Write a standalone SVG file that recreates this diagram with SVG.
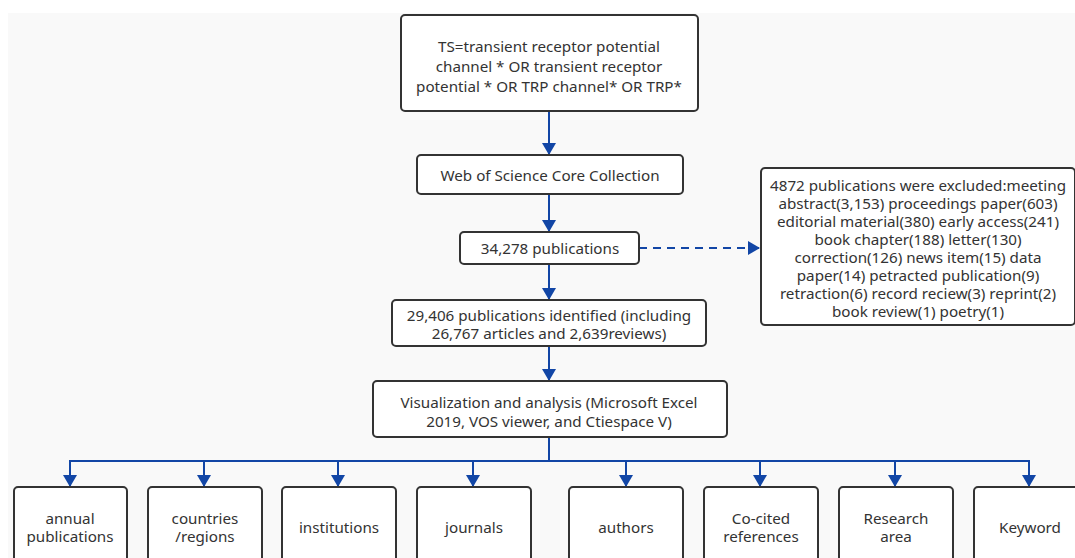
<svg xmlns="http://www.w3.org/2000/svg" width="1075" height="558" viewBox="0 0 1075 558">
<defs>
<marker id="ah" markerWidth="12" markerHeight="14" refX="12" refY="7" orient="auto" markerUnits="userSpaceOnUse">
<path d="M0,0 L12,7 L0,14 Z" fill="#1246a6"/>
</marker>
</defs>
<style>
.box{fill:#ffffff;stroke:#333333;stroke-width:2}
.t{font-family:"Noto Sans","Open Sans",sans-serif;font-size:15.2px;fill:#333333;text-anchor:middle}
.c{fill:none;stroke:#1246a6;stroke-width:2}
.d{fill:none;stroke:#1246a6;stroke-width:2;stroke-dasharray:8,6}
</style>
<rect x="0" y="0" width="1075" height="558" fill="#ffffff"/>
<rect x="8" y="13" width="1067" height="545" fill="#f9f9f9"/>
<g id="connectors">
<line class="c" x1="549" y1="111" x2="549" y2="155" marker-end="url(#ah)"/>
<line class="c" x1="549" y1="194" x2="549" y2="232" marker-end="url(#ah)"/>
<line class="d" x1="639" y1="248" x2="760" y2="248" marker-end="url(#ah)"/>
<line class="c" x1="549" y1="264" x2="549" y2="300" marker-end="url(#ah)"/>
<line class="c" x1="549" y1="346" x2="549" y2="381" marker-end="url(#ah)"/>
<polyline class="c" points="549,437 549,461"/>
<polyline class="c" points="70,461 1029,461"/>
<line class="c" x1="70" y1="460" x2="70" y2="487" marker-end="url(#ah)"/>
<line class="c" x1="204" y1="460" x2="204" y2="487" marker-end="url(#ah)"/>
<line class="c" x1="338" y1="460" x2="338" y2="487" marker-end="url(#ah)"/>
<line class="c" x1="473" y1="460" x2="473" y2="487" marker-end="url(#ah)"/>
<line class="c" x1="626" y1="460" x2="626" y2="487" marker-end="url(#ah)"/>
<line class="c" x1="760" y1="460" x2="760" y2="487" marker-end="url(#ah)"/>
<line class="c" x1="895" y1="460" x2="895" y2="487" marker-end="url(#ah)"/>
<line class="c" x1="1029" y1="460" x2="1029" y2="487" marker-end="url(#ah)"/>
</g>
<g id="query">
<rect class="box" x="401" y="15" width="297" height="96" rx="4"/>
<text class="t" x="549" y="52">TS=transient receptor potential</text>
<text class="t" x="549" y="72">channel * OR transient receptor</text>
<text class="t" x="549" y="92">potential * OR TRP channel* OR TRP*</text>
</g>
<g id="wos">
<rect class="box" x="417" y="155" width="266" height="39" rx="4"/>
<text class="t" x="550" y="181">Web of Science Core Collection</text>
</g>
<g id="pubs">
<rect class="box" x="460" y="232" width="179" height="32" rx="4"/>
<text class="t" x="550" y="254">34,278 publications</text>
</g>
<g id="excluded">
<rect class="box" x="761" y="168" width="314" height="157" rx="4"/>
<text class="t" x="918" y="191">4872 publications were excluded:meeting</text>
<text class="t" x="918" y="209">abstract(3,153) proceedings paper(603)</text>
<text class="t" x="918" y="227">editorial material(380) early access(241)</text>
<text class="t" x="918" y="245">book chapter(188) letter(130)</text>
<text class="t" x="918" y="263">correction(126) news item(15) data</text>
<text class="t" x="918" y="281">paper(14) petracted publication(9)</text>
<text class="t" x="918" y="299">retraction(6) record reciew(3) reprint(2)</text>
<text class="t" x="918" y="317">book review(1) poetry(1)</text>
</g>
<g id="identified">
<rect class="box" x="392" y="300" width="314" height="46" rx="4"/>
<text class="t" x="549" y="321">29,406 publications identified (including</text>
<text class="t" x="549" y="339">26,767 articles and 2,639reviews)</text>
</g>
<g id="analysis">
<rect class="box" x="373" y="381" width="354" height="56" rx="4"/>
<text class="t" x="549" y="408">Visualization and analysis (Microsoft Excel</text>
<text class="t" x="549" y="427">2019, VOS viewer, and Ctiespace V)</text>
</g>
<g id="annual">
<rect class="box" x="14" y="487" width="113" height="80" rx="4"/>
<text class="t" x="70" y="524">annual</text>
<text class="t" x="70" y="542">publications</text>
</g>
<g id="countries">
<rect class="box" x="148" y="487" width="114" height="80" rx="4"/>
<text class="t" x="205" y="524">countries</text>
<text class="t" x="205" y="542">/regions</text>
</g>
<g id="institutions">
<rect class="box" x="282" y="487" width="114" height="80" rx="4"/>
<text class="t" x="339" y="533">institutions</text>
</g>
<g id="journals">
<rect class="box" x="417" y="487" width="114" height="80" rx="4"/>
<text class="t" x="474" y="533">journals</text>
</g>
<g id="authors">
<rect class="box" x="569" y="487" width="114" height="80" rx="4"/>
<text class="t" x="626" y="533">authors</text>
</g>
<g id="cocited">
<rect class="box" x="704" y="487" width="114" height="80" rx="4"/>
<text class="t" x="761" y="524">Co-cited</text>
<text class="t" x="761" y="542">references</text>
</g>
<g id="research">
<rect class="box" x="839" y="487" width="114" height="80" rx="4"/>
<text class="t" x="896" y="524">Research</text>
<text class="t" x="896" y="542">area</text>
</g>
<g id="keyword">
<rect class="box" x="974" y="487" width="114" height="80" rx="4"/>
<text class="t" x="1030" y="533">Keyword</text>
</g>
</svg>
